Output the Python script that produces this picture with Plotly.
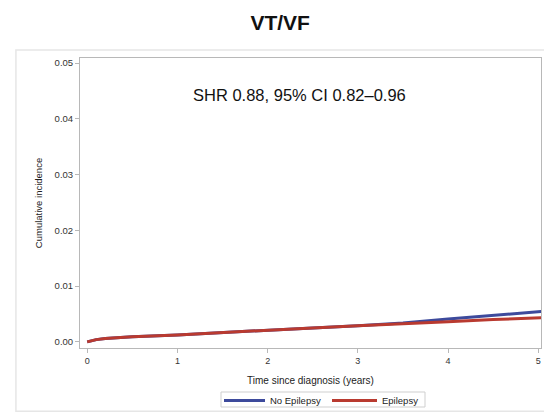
import plotly.graph_objects as go

t_years = [0, 0.05, 0.1, 0.2, 0.3, 0.5, 1.0, 1.5, 2.0, 2.5, 3.0, 3.5, 4.0, 4.5, 5.0, 5.05]
no_epilepsy = [0, 0.0002, 0.0004, 0.0006, 0.0007, 0.0009, 0.00125, 0.0017, 0.00215, 0.0025, 0.0029, 0.0034, 0.0041, 0.0047, 0.0054, 0.00545]
epilepsy = [0, 0.0002, 0.0004, 0.0006, 0.0007, 0.0009, 0.00125, 0.0017, 0.00215, 0.0025, 0.0029, 0.0032, 0.0036, 0.0040, 0.0043, 0.00433]

series_names = ["No Epilepsy", "Epilepsy"]
series_colors = ["#3d4a9c", "#b93a30"]

x_ticks = [0, 1, 2, 3, 4, 5]
y_ticks = [0.00, 0.01, 0.02, 0.03, 0.04, 0.05]

fig = go.Figure()
for name, vals, col in zip(series_names, [no_epilepsy, epilepsy], series_colors):
    fig.add_trace(go.Scatter(x=t_years, y=vals, mode="lines", name=name,
                             line=dict(color=col, width=3), showlegend=False))

font = "Liberation Sans, Arial, sans-serif"

# pixel -> paper helpers (plot area: x 80..541, paper y 0..1 = px 408..58)
def px(xp):
    return (xp - 80) / 461

def py(yp):
    return (408 - yp) / 350

# manual compact legend
legend_shapes = [dict(type="rect", xref="paper", yref="paper", x0=px(221), x1=px(425),
                      y0=py(407), y1=py(392), line=dict(color="#cfcfcf", width=1))]
legend_ann = []
sample_x = [(224, 265), (332, 377)]
for (a, b), name, col in zip(sample_x, series_names, series_colors):
    legend_shapes.append(dict(type="line", xref="paper", yref="paper", x0=px(a), x1=px(b),
                              y0=py(400.5), y1=py(400.5), line=dict(color=col, width=3)))
    legend_ann.append(dict(text=name, xref="paper", yref="paper", x=px(b + 3), y=py(400.5),
                           xanchor="left", yanchor="middle", showarrow=False,
                           font=dict(size=9.5, color="#222", family=font)))

fig.update_layout(
    width=544, height=413,
    margin=dict(l=80, r=3, t=58, b=5, autoexpand=False),
    paper_bgcolor="white", plot_bgcolor="white",
    font=dict(family=font, color="#222"),
    title=dict(text="<b>VT/VF</b>", x=0.515, xanchor="center", y=0.945, yanchor="middle",
               font=dict(size=21, family=font, color="#111")),
    showlegend=False,
    xaxis=dict(range=[-0.08, 5.03], tickvals=x_ticks, ticktext=[str(v) for v in x_ticks],
               showgrid=False, zeroline=False, showline=True, linecolor="#b8b8b8", linewidth=1,
               mirror=True, ticks="outside", ticklen=4, tickcolor="#b8b8b8",
               tickfont=dict(size=9, color="#333"),
               title=dict(text="Time since diagnosis (years)", font=dict(size=10, color="#222"), standoff=12)),
    yaxis=dict(domain=[60 / 350, 1], range=[-0.0011, 0.0509], tickvals=y_ticks,
               ticktext=[f"{v:.2f}" for v in y_ticks],
               showgrid=False, zeroline=False, showline=True, linecolor="#b8b8b8", linewidth=1,
               mirror=True, ticks="outside", ticklen=4, tickcolor="#b8b8b8",
               tickfont=dict(size=9.5, color="#333"),
               title=dict(text="Cumulative incidence", font=dict(size=9.5, color="#222"), standoff=10)),
    annotations=[dict(text="SHR 0.88, 95% CI 0.82\u20130.96", xref="paper", yref="paper",
                      x=0.477, y=0.894, xanchor="center", yanchor="middle", showarrow=False,
                      font=dict(size=16.5, color="#111", family=font))] + legend_ann,
    shapes=[dict(type="rect", xref="paper", yref="paper", x0=-0.139, x1=1.05, y0=-0.009, y1=1.023,
                 line=dict(color="#e6e6e6", width=1.5), layer="below")] + legend_shapes,
)

fig.write_html("out.html")
